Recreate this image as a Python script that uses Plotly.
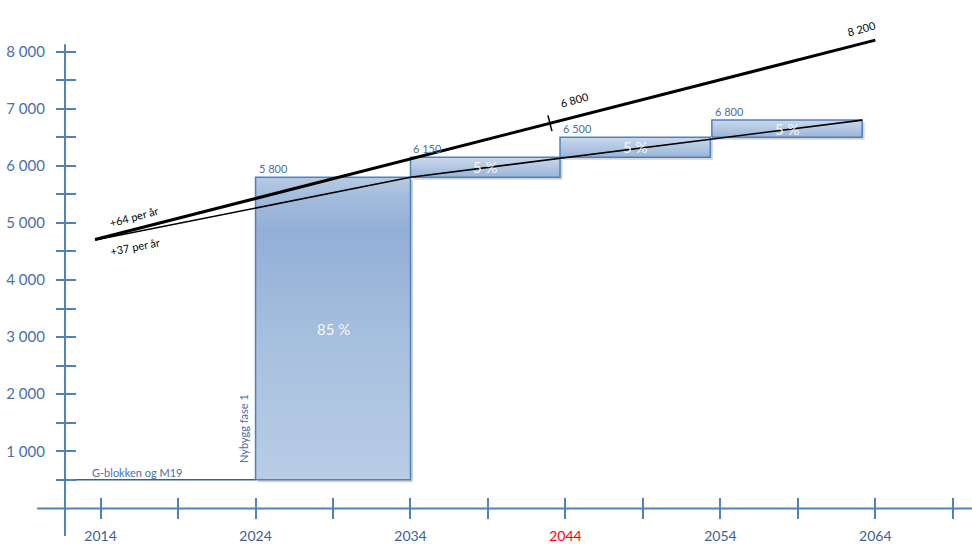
import plotly.graph_objects as go

# ---------------- data ----------------
x_tick_years = [2014, 2019, 2024, 2029, 2034, 2039, 2044, 2049, 2054, 2059, 2064, 2069]
x_tick_text = ["2014", "", "2024", "", "2034", "", "2044", "", "2054", "", "2064", ""]
highlight_year = "2044"

y_tick_values = [500, 1000, 1500, 2000, 2500, 3000, 3500, 4000,
                 4500, 5000, 5500, 6000, 6500, 7000, 7500, 8000]
y_tick_text = ["", "1 000", "", "2 000", "", "3 000", "", "4 000",
               "", "5 000", "", "6 000", "", "7 000", "", "8 000"]

# existing buildings (flat level)
existing_label = "G-blokken og M19"
existing_level = 500
existing_from = 2011.7
existing_to = 2024

# building phases
phase_start = [2024, 2034, 2043.65, 2053.45]
phase_end = [2034, 2043.65, 2053.35, 2063.15]
phase_base = [500, 5800, 6150, 6500]
phase_top = [5800, 6150, 6500, 6800]
phase_share = ["85 %", "5 %", "5 %", "5 %"]
first_phase_label = "Nybygg fase 1"
first_phase_label_level = 1400

# growth trends
trend_fast_years = [2013.64, 2064]
trend_fast_values = [4710, 8200]
trend_fast_label = "+64 per år"
trend_fast_label_pos = (2016.16, 5107)
trend_fast_mark_year = 2043
trend_fast_mark_value = 6800

trend_slow_years = [2013.64, 2034, 2063.15]
trend_slow_values = [4700, 5800, 6800]
trend_slow_label = "+37 per år"
trend_slow_label_pos = (2016.22, 4589)

# ---------------- styling ----------------
W, H = 972, 544
X_RANGE = [2007.507, 2070.24]
Y_RANGE = [-483, 8903]
Y_AXIS_AT = 2011.7
X_AXIS_SPAN = [2009.9, 2071]
Y_AXIS_SPAN = [-500, 8126]

AXIS = "#4F81BD"
TEXT_BLUE = "#4A6FA5"
TICK_BLUE = "#3F5F92"
FONT = "Lato"

px_year = W / (X_RANGE[1] - X_RANGE[0])
px_unit = H / (Y_RANGE[1] - Y_RANGE[0])


def fmt(v):
    return f"{int(round(v)):,}".replace(",", " ")


def lerp(xs, ys, x):
    for i in range(len(xs) - 1):
        if xs[i] <= x <= xs[i + 1]:
            t = (x - xs[i]) / (xs[i + 1] - xs[i])
            return ys[i] + t * (ys[i + 1] - ys[i])
    return ys[-1]


fig = go.Figure()

# axis lines
fig.add_trace(go.Scatter(x=X_AXIS_SPAN, y=[0, 0], mode="lines",
                         line=dict(color=AXIS, width=2), hoverinfo="skip"))
fig.add_trace(go.Scatter(x=[Y_AXIS_AT, Y_AXIS_AT], y=Y_AXIS_SPAN, mode="lines",
                         line=dict(color=AXIS, width=2), hoverinfo="skip"))

# soft shadows below phase boxes
sx, sy = 2.5 / px_year, 2.5 / px_unit
for x0, x1, b, t in zip(phase_start, phase_end, phase_base, phase_top):
    fig.add_trace(go.Scatter(
        x=[x0 + sx, x1 + sx, x1 + sx, x0 + sx, x0 + sx],
        y=[b - sy, b - sy, t - sy, t - sy, b - sy],
        fill="toself", fillcolor="rgba(60,60,60,0.22)",
        mode="lines", line=dict(width=0), hoverinfo="skip"))

# phase boxes with vertical gradient
big_scale = [[0.0, "#B8CCE5"], [0.45, "#A8C0DF"], [0.82, "#92AFD6"],
             [0.93, "#A2BBDC"], [1.0, "#B6CAE4"]]
small_scale = [[0.0, "#9AB5D9"], [1.0, "#CBD9EC"]]
for i, (x0, x1, b, t) in enumerate(zip(phase_start, phase_end, phase_base, phase_top)):
    fig.add_trace(go.Scatter(
        x=[x0, x1, x1, x0, x0], y=[b, b, t, t, b],
        fill="toself",
        fillgradient=dict(type="vertical", colorscale=big_scale if i == 0 else small_scale),
        mode="lines", line=dict(color=AXIS, width=1.5), hoverinfo="skip"))

# existing level
fig.add_trace(go.Scatter(x=[existing_from, existing_to], y=[existing_level, existing_level],
                         mode="lines", line=dict(color="#3D5F94", width=1.5), hoverinfo="skip"))

# trend lines
fig.add_trace(go.Scatter(x=trend_slow_years, y=trend_slow_values, mode="lines",
                         line=dict(color="black", width=1.6), hoverinfo="skip"))
fig.add_trace(go.Scatter(x=trend_fast_years, y=trend_fast_values, mode="lines",
                         line=dict(color="black", width=3), hoverinfo="skip"))

# small cross mark on the fast trend
mark_v = lerp(trend_fast_years, trend_fast_values, trend_fast_mark_year)
mdx, mdy = 2 / px_year, 8 / px_unit
fig.add_trace(go.Scatter(x=[trend_fast_mark_year - mdx, trend_fast_mark_year + mdx],
                         y=[mark_v + mdy, mark_v - mdy], mode="lines",
                         line=dict(color="black", width=1.5), hoverinfo="skip"))

# empty traces so the overlay tick axes are drawn
fig.add_trace(go.Scatter(x=[], y=[], xaxis="x2", yaxis="y", hoverinfo="skip"))
fig.add_trace(go.Scatter(x=[], y=[], xaxis="x", yaxis="y2", hoverinfo="skip"))

annotations = []
# phase value labels and shares
for x0, x1, b, t, share in zip(phase_start, phase_end, phase_base, phase_top, phase_share):
    annotations.append(dict(x=x0, y=t, text=fmt(t), xanchor="left", yanchor="bottom",
                            xshift=1, showarrow=False,
                            font=dict(family=FONT, size=11, color=TEXT_BLUE)))
    annotations.append(dict(x=(x0 + x1) / 2, y=(b + t) / 2, text=share,
                            xanchor="center", yanchor="middle", showarrow=False,
                            font=dict(family=FONT, size=15, color="rgba(255,255,255,0.9)")))

annotations.append(dict(x=phase_start[0], y=first_phase_label_level, text=first_phase_label,
                        textangle=-90, xanchor="center", yanchor="middle", xshift=-12,
                        showarrow=False, font=dict(family=FONT, size=11, color=TEXT_BLUE)))
annotations.append(dict(x=2013.3, y=existing_level, text=existing_label,
                        xanchor="left", yanchor="bottom", yshift=-1, showarrow=False,
                        font=dict(family=FONT, size=11, color=TEXT_BLUE)))

annotations.append(dict(x=trend_fast_label_pos[0], y=trend_fast_label_pos[1],
                        text=trend_fast_label, textangle=-15, showarrow=False,
                        font=dict(family=FONT, size=11, color="black")))
annotations.append(dict(x=trend_slow_label_pos[0], y=trend_slow_label_pos[1],
                        text=trend_slow_label, textangle=-11, showarrow=False,
                        font=dict(family=FONT, size=11, color="black")))
annotations.append(dict(x=trend_fast_mark_year, y=mark_v, text=fmt(trend_fast_mark_value),
                        textangle=-15, xshift=25, yshift=24, showarrow=False,
                        font=dict(family=FONT, size=11, color="black")))
annotations.append(dict(x=trend_fast_years[-1], y=trend_fast_values[-1],
                        text=fmt(trend_fast_values[-1]), textangle=-15,
                        xshift=-14, yshift=12, showarrow=False,
                        font=dict(family=FONT, size=11, color="black")))

x_text = [f'<span style="color:#FF0000">{t}</span>' if t == highlight_year else t
          for t in x_tick_text]

x_pos = (0 - Y_RANGE[0]) / (Y_RANGE[1] - Y_RANGE[0])
y_pos = (Y_AXIS_AT - X_RANGE[0]) / (X_RANGE[1] - X_RANGE[0])

common = dict(showgrid=False, zeroline=False, showline=False, anchor="free")

fig.update_layout(
    width=W, height=H,
    margin=dict(l=0, r=0, t=0, b=0),
    paper_bgcolor="white", plot_bgcolor="white",
    showlegend=False,
    annotations=annotations,
    xaxis=dict(range=X_RANGE, position=x_pos, tickmode="array", tickvals=x_tick_years,
               ticktext=x_text, ticks="outside", ticklen=10, tickwidth=1.5, tickcolor=AXIS,
               ticklabelstandoff=5,
               tickfont=dict(family=FONT, size=14, color=TICK_BLUE), **common),
    xaxis2=dict(range=X_RANGE, overlaying="x", position=x_pos, tickmode="array",
                tickvals=x_tick_years, ticks="inside", ticklen=10, tickwidth=1.5,
                tickcolor=AXIS, showticklabels=False, **common),
    yaxis=dict(range=Y_RANGE, position=y_pos, tickmode="array", tickvals=y_tick_values,
               ticktext=y_tick_text, ticks="outside", ticklen=9, tickwidth=1.5, tickcolor=AXIS,
               ticklabelstandoff=8,
               tickfont=dict(family=FONT, size=15, color=TEXT_BLUE), **common),
    yaxis2=dict(range=Y_RANGE, overlaying="y", position=y_pos, tickmode="array",
                tickvals=y_tick_values, ticks="inside", ticklen=10, tickwidth=1.5,
                tickcolor=AXIS, showticklabels=False, **common),
)

fig.write_html("out.html")
